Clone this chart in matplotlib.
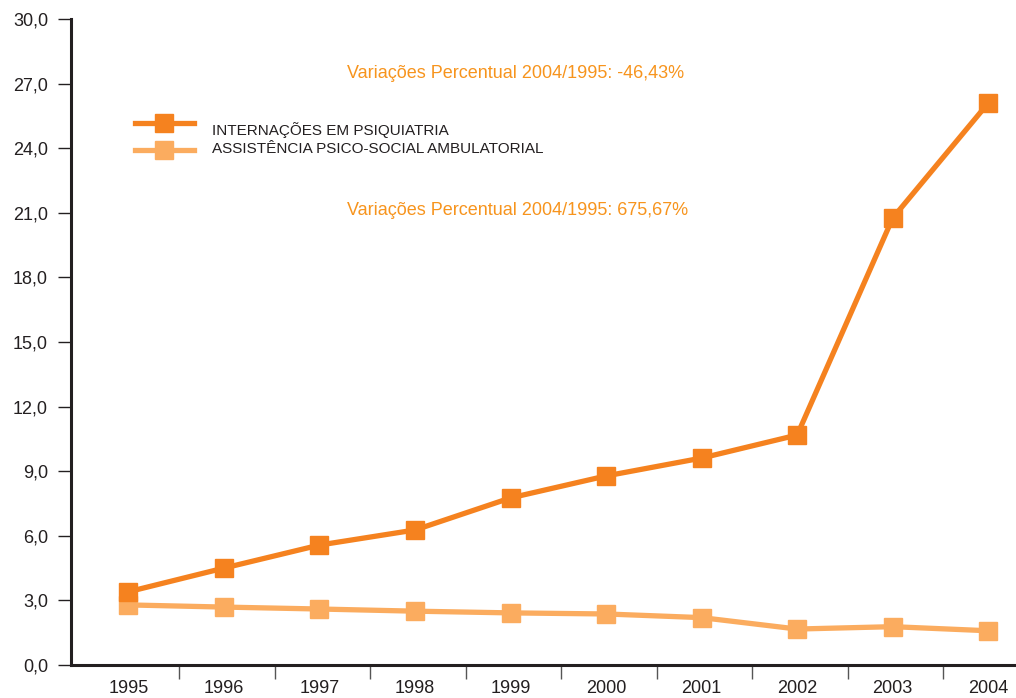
import matplotlib
matplotlib.use("Agg")
import matplotlib.pyplot as plt
from matplotlib.lines import Line2D

plt.rcParams['font.family'] = ['Liberation Sans', 'DejaVu Sans']

years = ["1995", "1996", "1997", "1998", "1999", "2000", "2001", "2002", "2003", "2004"]
internacoes = [3.40, 4.50, 5.57, 6.27, 7.76, 8.78, 9.61, 10.68, 20.76, 26.10]
assistencia = [2.79, 2.69, 2.60, 2.50, 2.42, 2.37, 2.20, 1.67, 1.78, 1.59]
yticks = [0, 3, 6, 9, 12, 15, 18, 21, 24, 27, 30]
legend_labels = ["INTERNAÇÕES EM PSIQUIATRIA", "ASSISTÊNCIA PSICO-SOCIAL AMBULATORIAL"]
notes = ["Variações Percentual 2004/1995: -46,43%", "Variações Percentual 2004/1995: 675,67%"]

dark = "#f5821f"
light = "#fbac5f"
note_color = "#f7941d"
axis_color = "#231f20"

fig = plt.figure(figsize=(10.16, 6.98), dpi=100)
ax = fig.add_axes([71/1016, 33/698, 945/1016, 646/698])

x = list(range(len(years)))
ax.plot(x, assistencia, color=light, lw=3.8, marker="s", ms=13, mec=light, mfc=light, zorder=3)
ax.plot(x, internacoes, color=dark, lw=3.8, marker="s", ms=13, mec=dark, mfc=dark, zorder=4)

ax.set_xlim(-0.6, 9.29)
ax.set_ylim(0, 30)

for s in ["top", "right"]:
    ax.spines[s].set_visible(False)
for s in ["left", "bottom"]:
    ax.spines[s].set_color(axis_color)
    ax.spines[s].set_linewidth(2.2)

ax.set_yticks(yticks)
ax.set_yticklabels([f"{v:.1f}".replace(".", ",") for v in yticks])
ax.tick_params(axis="y", length=9.5, width=1.0, color=axis_color, pad=7,
               labelsize=13, labelcolor=axis_color)

ax.set_xticks(x)
ax.set_xticklabels(years)
ax.tick_params(axis="x", which="major", length=0, pad=11, labelsize=13, labelcolor=axis_color)
ax.set_xticks([k + 0.53 for k in range(0, 9)], minor=True)
ax.tick_params(axis="x", which="minor", length=10, width=1.0, color="#555555", direction="out")

# manual legend
handles_y = [123, 150]
text_y = [130, 149]
cols = [dark, light]
for hy, ty, c, lab in zip(handles_y, text_y, cols, legend_labels):
    yy = 1 - hy / 698
    fig.add_artist(Line2D([135/1016, 194/1016], [yy, yy], color=c, lw=3.8,
                          transform=fig.transFigure))
    fig.add_artist(Line2D([164/1016], [yy], color=c, marker="s", ms=13, mec=c, mfc=c,
                          transform=fig.transFigure))
    fig.text(212/1016, 1 - ty/698, lab, fontsize=11, color=axis_color, va="center", ha="left")

fig.text(347/1016, 1 - 73/698, notes[0], fontsize=13, color=note_color, va="center", ha="left")
fig.text(347/1016, 1 - 211/698, notes[1], fontsize=13, color=note_color, va="center", ha="left")

fig.savefig("out.png", dpi=100)
